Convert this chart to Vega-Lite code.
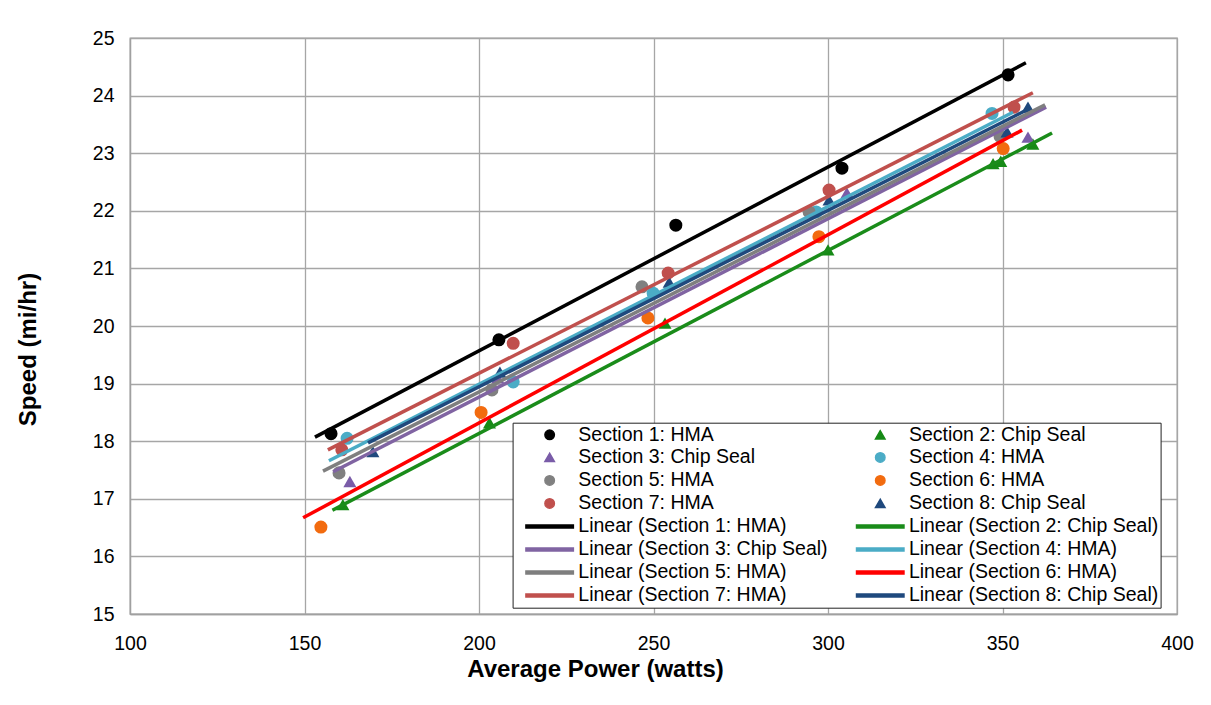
{
  "$schema": "https://vega.github.io/schema/vega-lite/v6.json",
  "width": 1047,
  "height": 576,
  "autosize": {"type": "none"},
  "padding": {"left": 130, "top": 38, "right": 34, "bottom": 91},
  "background": "white",
  "datasets": {
    "points": [
      {"entry": "Section 1: HMA", "power": 157.6, "speed": 18.13},
      {"entry": "Section 1: HMA", "power": 205.7, "speed": 19.76},
      {"entry": "Section 1: HMA", "power": 256.4, "speed": 21.75},
      {"entry": "Section 1: HMA", "power": 304.0, "speed": 22.74},
      {"entry": "Section 1: HMA", "power": 351.6, "speed": 24.36},
      {"entry": "Section 2: Chip Seal", "power": 161.0, "speed": 16.9},
      {"entry": "Section 2: Chip Seal", "power": 203.0, "speed": 18.32},
      {"entry": "Section 2: Chip Seal", "power": 253.3, "speed": 20.05},
      {"entry": "Section 2: Chip Seal", "power": 300.0, "speed": 21.32},
      {"entry": "Section 2: Chip Seal", "power": 347.3, "speed": 22.82},
      {"entry": "Section 2: Chip Seal", "power": 349.5, "speed": 22.86},
      {"entry": "Section 2: Chip Seal", "power": 358.7, "speed": 23.16},
      {"entry": "Section 3: Chip Seal", "power": 163.0, "speed": 17.3},
      {"entry": "Section 3: Chip Seal", "power": 205.4, "speed": 19.1},
      {"entry": "Section 3: Chip Seal", "power": 305.4, "speed": 22.31},
      {"entry": "Section 3: Chip Seal", "power": 357.3, "speed": 23.28},
      {"entry": "Section 4: HMA", "power": 162.2, "speed": 18.05},
      {"entry": "Section 4: HMA", "power": 209.8, "speed": 19.03},
      {"entry": "Section 4: HMA", "power": 249.9, "speed": 20.57},
      {"entry": "Section 4: HMA", "power": 296.6, "speed": 21.98},
      {"entry": "Section 4: HMA", "power": 347.0, "speed": 23.69},
      {"entry": "Section 5: HMA", "power": 159.9, "speed": 17.45},
      {"entry": "Section 5: HMA", "power": 203.7, "speed": 18.89},
      {"entry": "Section 5: HMA", "power": 246.7, "speed": 20.68},
      {"entry": "Section 5: HMA", "power": 294.6, "speed": 21.98},
      {"entry": "Section 5: HMA", "power": 349.3, "speed": 23.29},
      {"entry": "Section 6: HMA", "power": 154.7, "speed": 16.51},
      {"entry": "Section 6: HMA", "power": 200.6, "speed": 18.5},
      {"entry": "Section 6: HMA", "power": 248.4, "speed": 20.14},
      {"entry": "Section 6: HMA", "power": 297.4, "speed": 21.55},
      {"entry": "Section 6: HMA", "power": 350.2, "speed": 23.08},
      {"entry": "Section 7: HMA", "power": 160.7, "speed": 17.85},
      {"entry": "Section 7: HMA", "power": 209.8, "speed": 19.7},
      {"entry": "Section 7: HMA", "power": 254.2, "speed": 20.92},
      {"entry": "Section 7: HMA", "power": 300.3, "speed": 22.36},
      {"entry": "Section 7: HMA", "power": 353.3, "speed": 23.8},
      {"entry": "Section 8: Chip Seal", "power": 169.6, "speed": 17.82},
      {"entry": "Section 8: Chip Seal", "power": 206.0, "speed": 19.2},
      {"entry": "Section 8: Chip Seal", "power": 254.5, "speed": 20.76},
      {"entry": "Section 8: Chip Seal", "power": 300.3, "speed": 22.19},
      {"entry": "Section 8: Chip Seal", "power": 351.3, "speed": 23.37},
      {"entry": "Section 8: Chip Seal", "power": 357.3, "speed": 23.8}
    ],
    "lines": [
      {"entry": "Linear (Section 1: HMA)", "power": 153.0, "speed": 18.07},
      {"entry": "Linear (Section 1: HMA)", "power": 356.7, "speed": 24.57},
      {"entry": "Linear (Section 2: Chip Seal)", "power": 158.0, "speed": 16.8},
      {"entry": "Linear (Section 2: Chip Seal)", "power": 364.2, "speed": 23.35},
      {"entry": "Linear (Section 3: Chip Seal)", "power": 158.2, "speed": 17.47},
      {"entry": "Linear (Section 3: Chip Seal)", "power": 362.5, "speed": 23.8},
      {"entry": "Linear (Section 4: HMA)", "power": 157.0, "speed": 17.66},
      {"entry": "Linear (Section 4: HMA)", "power": 353.0, "speed": 23.71},
      {"entry": "Linear (Section 5: HMA)", "power": 155.3, "speed": 17.48},
      {"entry": "Linear (Section 5: HMA)", "power": 362.2, "speed": 23.84},
      {"entry": "Linear (Section 6: HMA)", "power": 149.6, "speed": 16.67},
      {"entry": "Linear (Section 6: HMA)", "power": 355.6, "speed": 23.4},
      {"entry": "Linear (Section 7: HMA)", "power": 156.7, "speed": 17.85},
      {"entry": "Linear (Section 7: HMA)", "power": 358.7, "speed": 24.05},
      {"entry": "Linear (Section 8: Chip Seal)", "power": 168.2, "speed": 17.97},
      {"entry": "Linear (Section 8: Chip Seal)", "power": 357.9, "speed": 23.78}
    ]
  },
  "layer": [
    {
      "data": {"name": "points"},
      "mark": {"type": "point", "filled": true, "size": 170, "opacity": 1},
      "encoding": {
        "x": {"field": "power", "type": "quantitative", "scale": {"domain": [100, 400], "nice": false, "zero": false},
              "axis": {"values": [100, 150, 200, 250, 300, 350, 400], "format": "d", "labelFlush": false, "title": "Average Power (watts)", "titleX": 465, "titleY": 55, "titleBaseline": "middle", "labelPadding": 20}},
        "y": {"field": "speed", "type": "quantitative", "scale": {"domain": [15, 25], "nice": false, "zero": false},
              "axis": {"values": [15, 16, 17, 18, 19, 20, 21, 22, 23, 24, 25], "format": "d", "labelFlush": false, "title": "Speed (mi/hr)", "titleX": -102, "titleY": 311, "titleBaseline": "middle", "labelPadding": 16}},
        "color": {"field": "entry", "type": "nominal",
          "scale": {"domain": ["Section 1: HMA", "Section 2: Chip Seal", "Section 3: Chip Seal", "Section 4: HMA", "Section 5: HMA", "Section 6: HMA", "Section 7: HMA", "Section 8: Chip Seal", "Linear (Section 1: HMA)", "Linear (Section 2: Chip Seal)", "Linear (Section 3: Chip Seal)", "Linear (Section 4: HMA)", "Linear (Section 5: HMA)", "Linear (Section 6: HMA)", "Linear (Section 7: HMA)", "Linear (Section 8: Chip Seal)"],
                    "range": ["#000000", "#168a16", "#7a5ca8", "#4bacc6", "#808080", "#f26b0f", "#c0504d", "#1f497d", "#000000", "#1a8c1a", "#8064a2", "#4bacc6", "#7f7f7f", "#ff0000", "#c0504d", "#1f497d"]},
          "legend": {"title": null, "orient": "none", "direction": "horizontal", "legendX": 382.6, "legendY": 384.7, "columns": 2, "columnPadding": 16.6, "rowPadding": 2, "padding": 2, "symbolSize": 90, "symbolOffset": 25.3, "labelOffset": 18.9, "strokeColor": "#222222", "fillColor": "white", "labelFont": "Liberation Sans", "labelFontSize": 19.5, "labelColor": "#000000", "labelLimit": 400}},
        "shape": {"field": "entry", "type": "nominal",
          "scale": {"domain": ["Section 1: HMA", "Section 2: Chip Seal", "Section 3: Chip Seal", "Section 4: HMA", "Section 5: HMA", "Section 6: HMA", "Section 7: HMA", "Section 8: Chip Seal", "Linear (Section 1: HMA)", "Linear (Section 2: Chip Seal)", "Linear (Section 3: Chip Seal)", "Linear (Section 4: HMA)", "Linear (Section 5: HMA)", "Linear (Section 6: HMA)", "Linear (Section 7: HMA)", "Linear (Section 8: Chip Seal)"],
                    "range": ["circle", "triangle-up", "triangle-up", "circle", "circle", "circle", "circle", "triangle-up", "M-5,-0.32L5,-0.32L5,0.32L-5,0.32Z", "M-5,-0.32L5,-0.32L5,0.32L-5,0.32Z", "M-5,-0.32L5,-0.32L5,0.32L-5,0.32Z", "M-5,-0.32L5,-0.32L5,0.32L-5,0.32Z", "M-5,-0.32L5,-0.32L5,0.32L-5,0.32Z", "M-5,-0.32L5,-0.32L5,0.32L-5,0.32Z", "M-5,-0.32L5,-0.32L5,0.32L-5,0.32Z", "M-5,-0.32L5,-0.32L5,0.32L-5,0.32Z"]},
          "legend": {"title": null, "orient": "none", "direction": "horizontal", "legendX": 382.6, "legendY": 384.7, "columns": 2, "columnPadding": 16.6, "rowPadding": 2, "padding": 2, "symbolSize": 90, "symbolOffset": 25.3, "labelOffset": 18.9, "strokeColor": "#222222", "fillColor": "white", "labelFont": "Liberation Sans", "labelFontSize": 19.5, "labelColor": "#000000", "labelLimit": 400}}
      }
    },
    {
      "data": {"name": "lines"},
      "mark": {"type": "line", "strokeWidth": 3.5},
      "encoding": {
        "x": {"field": "power", "type": "quantitative"},
        "y": {"field": "speed", "type": "quantitative"},
        "color": {"field": "entry", "type": "nominal", "legend": null}
      }
    }
  ],
  "config": {
    "view": {"stroke": "#a0a0a0", "strokeWidth": 1.3},
    "axis": {
      "domainColor": "#a0a0a0", "domainWidth": 1.3,
      "gridColor": "#a6a6a6", "gridWidth": 1.3, "grid": true,
      "ticks": false,
      "labelFont": "Liberation Sans", "labelFontSize": 19.5, "labelColor": "#000000",
      "titleFont": "Liberation Sans", "titleFontSize": 24, "titleFontWeight": "bold", "titleColor": "#000000"
    }
  }
}
